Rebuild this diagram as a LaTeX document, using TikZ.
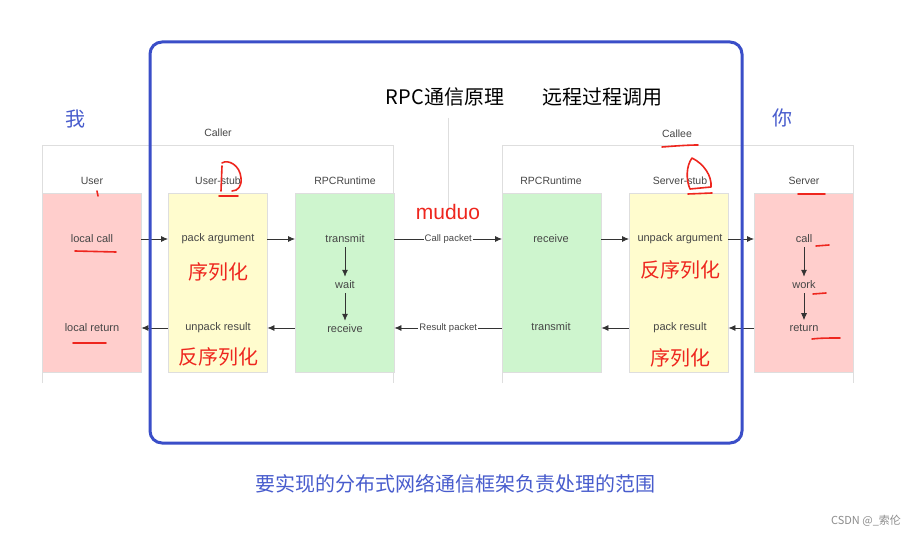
\documentclass[tikz,border=0pt]{standalone}
\usepackage{fontspec}
\setmainfont{Liberation Sans}
\newfontfamily\cjk{Noto Sans CJK SC}
\usetikzlibrary{arrows.meta}
\definecolor{pinkf}{RGB}{255,206,204}
\definecolor{yelf}{RGB}{255,252,206}
\definecolor{grnf}{RGB}{206,245,206}
\definecolor{rimc}{RGB}{58,78,200}
\definecolor{bluet}{RGB}{72,92,205}
\definecolor{redm}{RGB}{238,38,30}
\definecolor{txtc}{RGB}{70,70,70}
\definecolor{edgec}{RGB}{222,222,222}
\begin{document}
\begin{tikzpicture}[x=1pt,y=-1pt,
  col/.style={draw=edgec, minimum width=99pt, minimum height=179pt, inner sep=0pt, anchor=north west},
  lbl/.style={text=txtc, font=\fontsize{11}{12}\selectfont, inner sep=1pt},
  hdr/.style={text=txtc, font=\fontsize{10.5}{12}\selectfont, inner sep=1pt},
  pkt/.style={text=txtc, fill=white, font=\fontsize{9.5}{11}\selectfont, inner sep=1pt},
  arr/.style={draw=black!80, line width=0.8pt, -{Latex[length=7pt,width=6pt]}},
  cont/.style={draw=edgec, line width=1pt},
  redcn/.style={text=redm, font=\cjk\fontsize{20}{22}\selectfont, inner sep=0pt},
  redline/.style={draw=redm, line width=1.6pt, line cap=round, line join=round},
  bluecn/.style={text=bluet, font=\cjk\fontsize{20}{22}\selectfont, inner sep=0pt}
]
\useasboundingbox (0,0) rectangle (924,537);
\fill[white] (0,0) rectangle (924,537);

% containers
\coordinate (cl1) at (42,383); \coordinate (cl2) at (42,146);
\coordinate (cl3) at (393,146); \coordinate (cl4) at (393,383);
\draw[cont] (cl1) -- (cl2) -- (cl3) -- (cl4);
\coordinate (ce1) at (502,383); \coordinate (ce2) at (502,146);
\coordinate (ce3) at (853,146); \coordinate (ce4) at (853,383);
\draw[cont] (ce1) -- (ce2) -- (ce3) -- (ce4);
\node[hdr] (caller) at (218,133) {Caller};
\node[hdr] (callee) at (677,134) {Callee};
\coordinate (vl1) at (448,118); \coordinate (vl2) at (448,211);
\draw[cont] (vl1) -- (vl2);

% column boxes
\node[col, fill=pinkf] (user) at (42,193) {};
\node[col, fill=yelf] (ustub) at (168,193) {};
\node[col, fill=grnf] (rtl) at (295,193) {};
\node[col, fill=grnf] (rtr) at (502,193) {};
\node[col, fill=yelf] (sstub) at (629,193) {};
\node[col, fill=pinkf] (server) at (754,193) {};

\node[hdr] (h1) at (92,181) {User};
\node[hdr] (h2) at (218,181) {User-stub};
\node[hdr] (h3) at (345,181) {RPCRuntime};
\node[hdr] (h4) at (551,181) {RPCRuntime};
\node[hdr] (h5) at (680,181) {Server-stub};
\node[hdr] (h6) at (804,181) {Server};

% texts
\node[lbl] (lcall) at (92,239) {local call};
\node[lbl] (lret) at (92,328) {local return};
\node[lbl] (pack) at (218,239) {pack argument};
\node[lbl] (unpr) at (218,328) {unpack result};
\node[lbl] (tx1) at (345,239) {transmit};
\node[lbl] (wait) at (345,285) {wait};
\node[lbl] (rx1) at (345,329) {receive};
\node[lbl] (rx2) at (551,239) {receive};
\node[lbl] (tx2) at (551,327) {transmit};
\node[lbl] (unpa) at (680,239) {unpack argument};
\node[lbl] (packr) at (680,328) {pack result};
\node[lbl] (scall) at (804,239) {call};
\node[lbl] (work) at (804,285) {work};
\node[lbl] (sret) at (804,328) {return};

% vertical arrows
\draw[arr] ([yshift=-3pt]tx1.south) -- ([yshift=3pt]wait.north);
\draw[arr] ([yshift=-3pt]wait.south) -- ([yshift=3pt]rx1.north);
\draw[arr] ([yshift=-3pt]scall.south) -- ([yshift=3pt]work.north);
\draw[arr] ([yshift=-3pt]work.south) -- ([yshift=3pt]sret.north);

% horizontal arrows forward
\draw[arr] (user.east |- lcall) -- (ustub.west |- lcall);
\draw[arr] (ustub.east |- lcall) -- (rtl.west |- lcall);
\draw[arr] (rtl.east |- lcall) -- node[pkt] (cp) {Call packet} (rtr.west |- lcall);
\draw[arr] (rtr.east |- lcall) -- (sstub.west |- lcall);
\draw[arr] (sstub.east |- lcall) -- (server.west |- lcall);
% backward
\draw[arr] (server.west |- packr) -- (sstub.east |- packr);
\draw[arr] (sstub.west |- packr) -- (rtr.east |- packr);
\draw[arr] (rtr.west |- packr) -- node[pkt] (rp) {Result packet} (rtl.east |- packr);
\draw[arr] (rtl.west |- packr) -- (ustub.east |- packr);
\draw[arr] (ustub.west |- packr) -- (user.east |- packr);

% titles
\node[text=black, font=\cjk\fontsize{20}{22}\selectfont, inner sep=0pt] (t1) at (445,97) {RPC通信原理};
\node[text=black, font=\cjk\fontsize{20}{22}\selectfont, inner sep=0pt] (t2) at (602,97) {远程过程调用};
\node[bluecn] (wo) at (75,119) {我};
\node[bluecn] (ni) at (782,118) {你};
\node[bluecn] (bottom) at (455,484) {要实现的分布式网络通信框架负责处理的范围};
\node[text=black!45, font=\cjk\fontsize{11}{12}\selectfont, inner sep=0pt] (wm) at (866,521) {CSDN @\_索伦};

% red annotations
\node[text=redm, font=\fontsize{21}{22}\selectfont, inner sep=0pt] (muduo) at (448,212) {muduo};
\node[redcn] (s1) at (218,272) {序列化};
\node[redcn] (s2) at (218,357) {反序列化};
\node[redcn] (s3) at (680,270) {反序列化};
\node[redcn] (s4) at (680,358) {序列化};

\draw[redline] (75,251) -- (116,252);
\draw[redline] (73,343) -- (106,343);
\draw[redline] (97,191) -- (98,196);
\draw[redline] (222,163) .. controls (228,159) and (240,165) .. (241,178) .. controls (242,186) and (238,191) .. (232,191);
\draw[redline] (222,166) -- (221,191);
\draw[redline] (219,196) -- (238,196);
\draw[redline] (662,147) .. controls (675,146) and (688,145) .. (698,145);
\draw[redline] (692,158) .. controls (686,166) and (686,180) .. (690,189) -- (711,187) .. controls (712,176) and (704,164) .. (692,158);
\draw[redline] (688,194) -- (712,193);
\draw[redline] (798,194) -- (825,194);
\draw[redline] (816,246) -- (829,245);
\draw[redline] (813,294) -- (826,293);
\draw[redline] (812,339) .. controls (820,338) and (830,338) .. (840,338);

% blue rim
\draw[draw=rimc, line width=3pt, rounded corners=12pt] (150,42) rectangle (742,443);
\end{tikzpicture}
\end{document}
